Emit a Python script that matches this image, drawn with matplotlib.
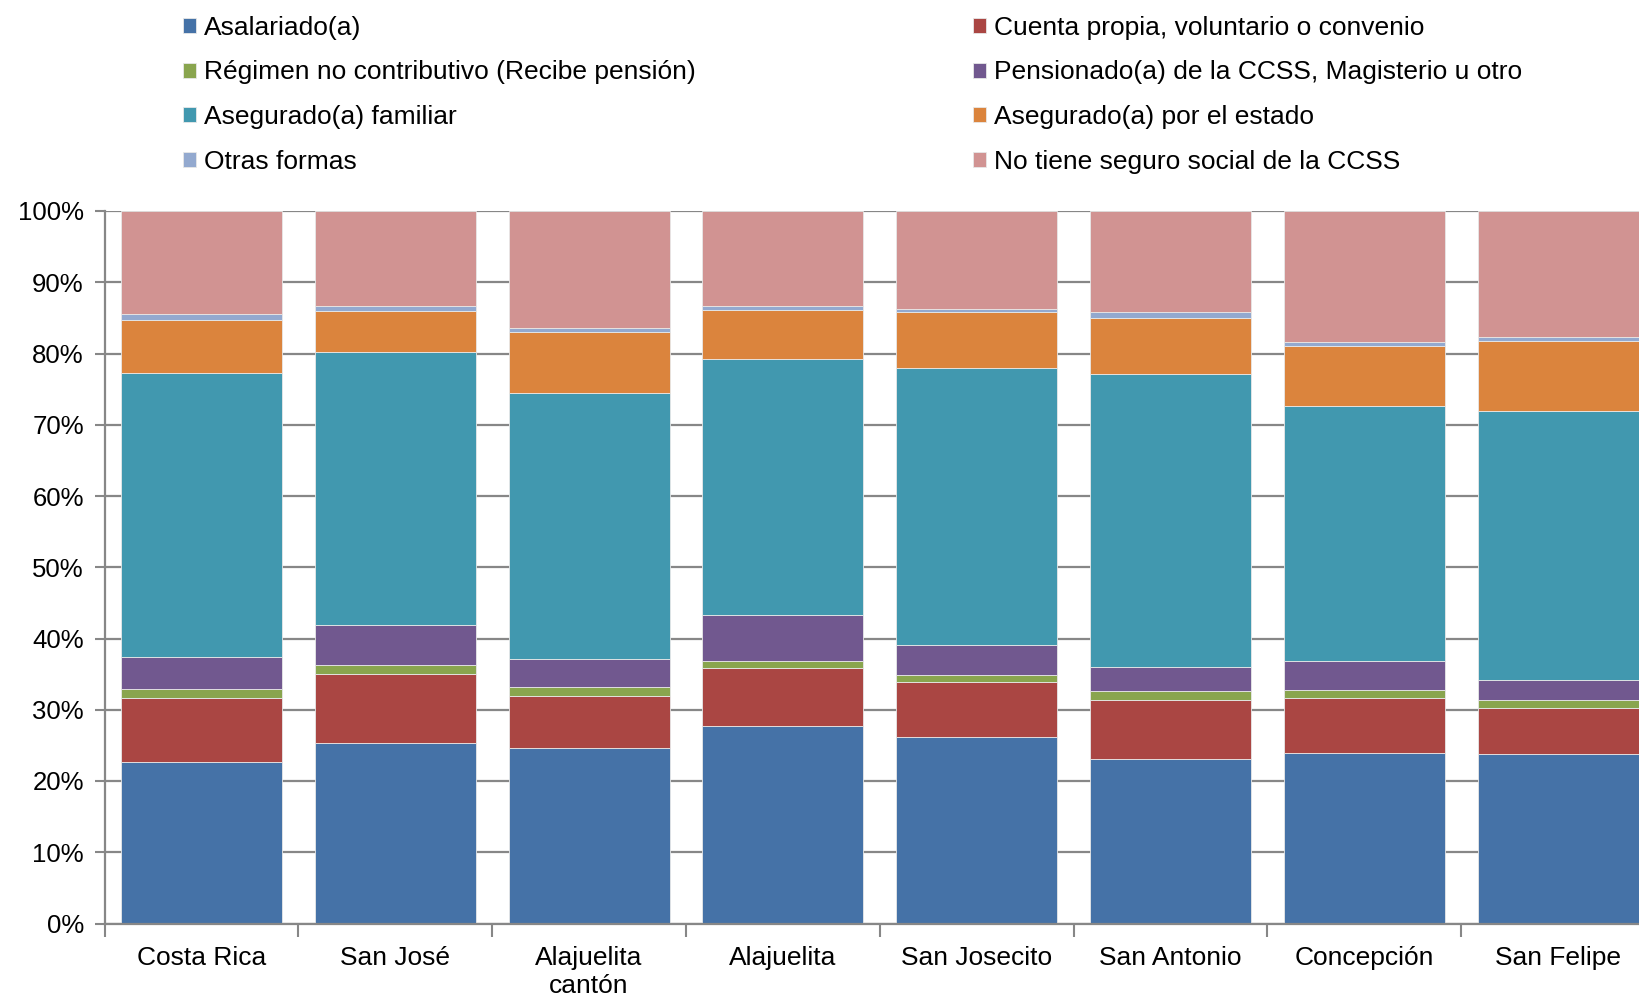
import matplotlib
matplotlib.use("Agg")
import matplotlib.pyplot as plt
import numpy as np
from matplotlib.ticker import FixedLocator, PercentFormatter

plt.rcParams['font.family'] = ['Liberation Sans', 'DejaVu Sans']

categories = ["Costa Rica", "San José", "Alajuelita\ncantón", "Alajuelita",
              "San Josecito", "San Antonio", "Concepción", "San Felipe"]

asalariado = [22.7, 25.3, 24.7, 27.7, 26.1, 23.1, 24.0, 23.8]
cuenta_propia = [9.0, 9.8, 7.3, 8.2, 7.8, 8.2, 7.6, 6.5]
regimen_nc = [1.2, 1.2, 1.2, 1.0, 1.0, 1.4, 1.2, 1.1]
pensionado = [4.5, 5.7, 3.9, 6.4, 4.2, 3.3, 4.0, 2.8]
familiar = [39.8, 38.3, 37.4, 35.9, 38.8, 41.1, 35.8, 37.8]
estado = [7.5, 5.8, 8.5, 6.9, 7.8, 7.9, 8.4, 9.7]
otras = [0.8, 0.7, 0.6, 0.6, 0.5, 0.8, 0.6, 0.6]
no_tiene = [14.5, 13.3, 16.4, 13.3, 13.7, 14.2, 18.4, 17.7]

series = [
    ("Asalariado(a)", asalariado, "#4572A7"),
    ("Cuenta propia, voluntario o convenio", cuenta_propia, "#AA4643"),
    ("Régimen no contributivo (Recibe pensión)", regimen_nc, "#89A54E"),
    ("Pensionado(a) de la CCSS, Magisterio u otro", pensionado, "#71588F"),
    ("Asegurado(a) familiar", familiar, "#4198AF"),
    ("Asegurado(a) por el estado", estado, "#DB843D"),
    ("Otras formas", otras, "#93A9CF"),
    ("No tiene seguro social de la CCSS", no_tiene, "#D19392"),
]

FS = 19

fig = plt.figure(figsize=(16.4, 9.99), dpi=100)
ax = fig.add_axes([104.6 / 1640, 1 - 923.5 / 999, (1655 - 104.6) / 1640, (923.5 - 211) / 999])

x = np.arange(len(categories))
totals = np.zeros(len(categories))
for name, vals, col in series:
    totals += np.array(vals, dtype=float)

bottom = np.zeros(len(categories))
handles = {}
for name, vals, col in series:
    v = np.array(vals, dtype=float) / totals * 100
    b = ax.bar(x, v, bottom=bottom, width=0.83, color=col, edgecolor="#e8e8e8",
               linewidth=0.6, label=name, zorder=2)
    handles[name] = b
    bottom += v

ax.set_xlim(-0.5, len(categories) - 0.5)
ax.set_ylim(0, 100)
ax.yaxis.set_major_locator(FixedLocator(np.arange(0, 101, 10)))
ax.yaxis.set_major_formatter(PercentFormatter(decimals=0))
ax.grid(axis="y", color="#878787", linewidth=1.6, zorder=0)
ax.set_axisbelow(True)

ax.set_xticks(x)
ax.set_xticklabels(categories, fontsize=FS)
ax.xaxis.set_minor_locator(FixedLocator(np.arange(-0.5, len(categories), 1.0)))
ax.tick_params(axis="x", which="major", length=0, pad=16)
ax.tick_params(axis="x", which="minor", length=9, width=1.5, color="#878787", direction="out")
ax.tick_params(axis="y", which="major", length=7, width=1.5, color="#878787", labelsize=18.5, pad=8)

for s in ["top", "right"]:
    ax.spines[s].set_visible(False)
for s in ["left", "bottom"]:
    ax.spines[s].set_color("#878787")
    ax.spines[s].set_linewidth(1.6)

order = [0, 2, 4, 6, 1, 3, 5, 7]
h = [handles[series[i][0]] for i in order]
l = [series[i][0] for i in order]
fig.legend(h, l, loc="upper left", bbox_to_anchor=(172 / 1640, 1 - 5 / 999), ncol=2,
           frameon=False, fontsize=FS, handlelength=0.5, handleheight=0.5,
           handletextpad=0.3, columnspacing=10.5, labelspacing=0.79, borderaxespad=0)

fig.savefig("out.png", dpi=100)
